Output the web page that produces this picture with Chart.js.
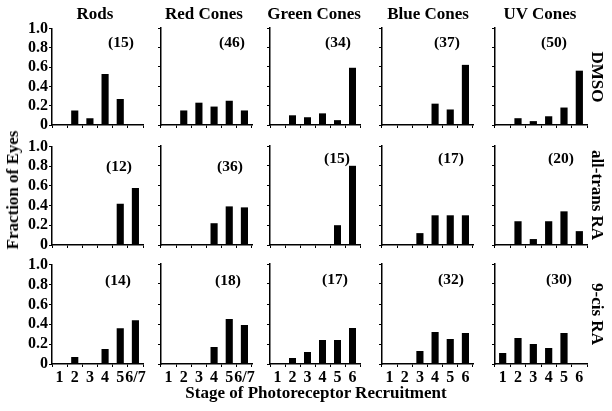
<!DOCTYPE html>
<html>
<head>
<meta charset="utf-8">
<script src="https://cdn.jsdelivr.net/npm/chart.js@4"></script>
<style>
  body { margin: 0; background: #fff; }
  #wrap { position: relative; width: 612px; height: 411px; overflow: hidden; font-family: "Liberation Serif", "Times New Roman", serif; font-weight: bold; color: #000; }
  #wrap canvas { position: absolute; }
  .lbl { position: absolute; transform: translate(-50%, -50%); white-space: nowrap; }
  .title { font-size: 17px; }
  .count { font-size: 15.5px; }
  .side { font-size: 17px; transform: translate(-50%, -50%) rotate(90deg); }
  .axis { font-size: 17px; }
</style>
</head>
<body>
<div id="wrap"></div>
<script>
// stages on the x axis
const stagesRods = ['1', '2', '3', '4', '5', '6/7'];
const stagesCones = ['1', '2', '3', '4', '5', '6'];
const cellTypes = ['Rods', 'Red Cones', 'Green Cones', 'Blue Cones', 'UV Cones'];
const treatments = ['DMSO', 'all-trans RA', '9-cis RA'];
const yTicks = [0, 0.2, 0.4, 0.6, 0.8, 1.0];

// fraction of eyes per stage
const dmsoRods  = [0, 0.15, 0.07, 0.53, 0.27, 0];
const dmsoRed   = [0, 0.15, 0.23, 0.19, 0.25, 0.15];
const dmsoGreen = [0, 0.10, 0.08, 0.12, 0.05, 0.59];
const dmsoBlue  = [0, 0, 0, 0.22, 0.16, 0.62];
const dmsoUV    = [0, 0.07, 0.04, 0.09, 0.18, 0.56];

const atraRods  = [0, 0, 0, 0, 0.42, 0.58];
const atraRed   = [0, 0, 0, 0.22, 0.39, 0.38];
const atraGreen = [0, 0, 0, 0, 0.20, 0.80];
const atraBlue  = [0, 0, 0.12, 0.30, 0.30, 0.30];
const atraUV    = [0, 0.24, 0.06, 0.24, 0.34, 0.14];

const cisRods  = [0, 0.07, 0, 0.15, 0.36, 0.44];
const cisRed   = [0, 0, 0, 0.17, 0.45, 0.39];
const cisGreen = [0, 0.06, 0.12, 0.24, 0.24, 0.36];
const cisBlue  = [0, 0, 0.13, 0.32, 0.25, 0.31];
const cisUV    = [0.11, 0.26, 0.20, 0.16, 0.31, 0];

// number of eyes (n)
const countsDmso = [15, 46, 34, 37, 50];
const countsAtra = [12, 36, 15, 17, 20];
const countsCis  = [14, 18, 17, 32, 30];

const rows = [
  [dmsoRods, dmsoRed, dmsoGreen, dmsoBlue, dmsoUV],
  [atraRods, atraRed, atraGreen, atraBlue, atraUV],
  [cisRods, cisRed, cisGreen, cisBlue, cisUV]
];
const counts = [countsDmso, countsAtra, countsCis];

// layout
const plotLeft = [52, 161, 270, 382, 495];
const plotWidth = [91, 91, 90, 91, 92];
const plotTop = [28, 146, 264];
const plotHeight = [97, 99, 100];
const countPos = [
  [[121, 42], [232, 42], [338, 42], [447, 42], [554, 42]],
  [[119, 166], [230, 166], [337, 158], [451, 158], [561, 158]],
  [[118, 280], [228, 280], [335, 279], [451, 279], [559, 279]]
];
const titleX = [95, 204, 314, 428, 540];
const sideY = [77, 195, 314];

const wrap = document.getElementById('wrap');
const yFont = { family: 'Liberation Serif', weight: 'bold', size: 16 };
const xFont = { family: 'Liberation Serif', weight: 'bold', size: 16 };

function addLabel(text, x, y, cls) {
  const d = document.createElement('div');
  d.className = 'lbl ' + cls;
  d.style.left = x + 'px';
  d.style.top = y + 'px';
  d.textContent = text;
  wrap.appendChild(d);
}

rows.forEach(function(rowData, r) {
  rowData.forEach(function(values, c) {
    const yW = c === 0 ? 40 : 4;
    const xH = r === 2 ? 24 : 5;
    const padT = 10, padR = 14, padB = 10;
    const cv = document.createElement('canvas');
    const w = yW + plotWidth[c] + padR;
    const h = padT + plotHeight[r] + xH + padB;
    cv.width = w; cv.height = h;
    cv.style.width = w + 'px'; cv.style.height = h + 'px';
    cv.style.left = (plotLeft[c] - yW) + 'px';
    cv.style.top = (plotTop[r] - padT) + 'px';
    wrap.appendChild(cv);

    new Chart(cv.getContext('2d'), {
      type: 'bar',
      data: {
        labels: c < 2 ? stagesRods : stagesCones,
        datasets: [{
          data: values,
          backgroundColor: '#000',
          categoryPercentage: 1,
          barPercentage: 0.47
        }]
      },
      options: {
        responsive: false,
        animation: false,
        devicePixelRatio: 1,
        layout: { padding: { top: padT, right: padR, bottom: padB, left: 0 } },
        plugins: { legend: { display: false }, tooltip: { enabled: false } },
        scales: {
          x: {
            offset: true,
            grid: { display: true, offset: true, drawOnChartArea: false, drawTicks: true, tickLength: 3, color: '#000' },
            border: { display: true, color: '#000', width: 1.5 },
            ticks: { display: r === 2, color: '#000', font: xFont, padding: 1, maxRotation: 0, autoSkip: false },
            afterFit: function(s) { s.height = xH; }
          },
          y: {
            min: 0,
            max: 1,
            afterBuildTicks: function(s) { s.ticks = yTicks.map(function(v) { return { value: v }; }); },
            grid: { display: true, drawOnChartArea: false, drawTicks: true, tickLength: 3, color: '#000' },
            border: { display: true, color: '#000', width: 1.5 },
            ticks: {
              display: c === 0,
              autoSkip: false,
              color: '#000',
              font: yFont,
              padding: 1,
              callback: function(v) { return v === 0 ? '0' : v.toFixed(1); }
            },
            afterFit: function(s) { s.width = yW; }
          }
        }
      }
    });

    addLabel('(' + counts[r][c] + ')', countPos[r][c][0], countPos[r][c][1], 'count');
  });
});

cellTypes.forEach(function(t, c) { addLabel(t, titleX[c], 14, 'title'); });
treatments.forEach(function(t, r) { addLabel(t, 597, sideY[r], 'side'); });

const yTitle = document.createElement('div');
yTitle.className = 'lbl axis';
yTitle.style.left = '13px';
yTitle.style.top = '190px';
yTitle.style.transform = 'translate(-50%, -50%) rotate(-90deg)';
yTitle.textContent = 'Fraction of Eyes';
wrap.appendChild(yTitle);

addLabel('Stage of Photoreceptor Recruitment', 316, 393, 'axis');
</script>
</body>
</html>
